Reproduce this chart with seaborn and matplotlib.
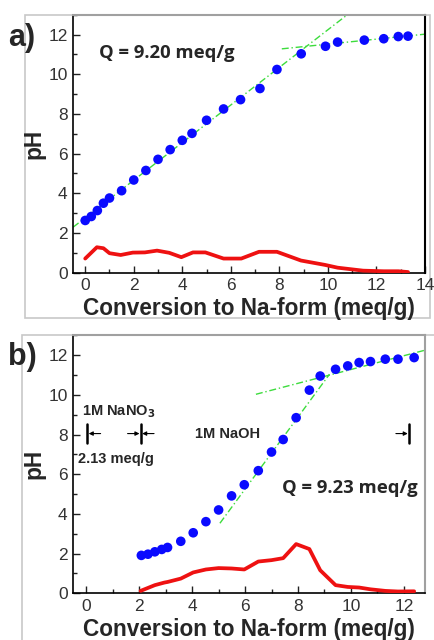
import numpy as np
import pandas as pd
import matplotlib
matplotlib.use("Agg")
import matplotlib.pyplot as plt
from matplotlib.patches import Rectangle
from matplotlib.ticker import MultipleLocator
import seaborn as sns

# ---------------- data ----------------
# panel a
a_x = [0, 0.25, 0.5, 0.75, 1.0, 1.5, 2.0, 2.5, 3.0, 3.5, 4.0, 4.4, 5.0, 5.7, 6.4,
       7.2, 7.9, 8.9, 9.9, 10.4, 11.5, 12.3, 12.9, 13.3]
a_ph = [2.63, 2.83, 3.13, 3.5, 3.76, 4.13, 4.67, 5.15, 5.71, 6.2, 6.67, 7.02, 7.68,
        8.25, 8.72, 9.28, 10.24, 11.03, 11.41, 11.62, 11.72, 11.79, 11.9, 11.92]
a_red_x = [0, 0.48, 0.75, 1.0, 1.46, 1.96, 2.46, 2.96, 3.46, 3.96, 4.44, 4.95, 5.7,
           6.43, 7.16, 7.9, 8.89, 9.88, 10.4, 11.45, 12.3, 12.9, 13.3]
a_red_y = [0.71, 1.28, 1.23, 0.98, 0.89, 1.01, 1.02, 1.11, 1.0, 0.78, 1.02, 1.02, 0.71,
           0.71, 1.05, 1.05, 0.61, 0.39, 0.25, 0.1, 0.07, 0.07, 0.03]
a_fit1_x = [-0.5, 10.8]
a_fit1_y = [2.29, 13.0]
a_fit2_x = [8.1, 14.0]
a_fit2_y = [11.28, 12.02]
a_q_text = "Q = 9.20 meq/g"

# panel b
b_x = [2.08, 2.33, 2.59, 2.85, 3.07, 3.57, 4.04, 4.52, 5.0, 5.49, 5.97, 6.5, 7.0,
       7.44, 7.93, 8.43, 8.84, 9.42, 9.88, 10.31, 10.74, 11.3, 11.78, 12.39]
b_ph = [1.91, 1.97, 2.09, 2.21, 2.31, 2.62, 3.05, 3.61, 4.2, 4.91, 5.47, 6.18, 7.12,
        7.75, 8.85, 10.24, 10.95, 11.29, 11.46, 11.63, 11.68, 11.8, 11.8, 11.88]
b_red_x = [2.05, 2.59, 2.95, 3.07, 3.57, 4.04, 4.52, 5.0, 5.49, 5.97, 6.5, 7.0, 7.44,
           7.93, 8.43, 8.84, 9.42, 9.88, 10.31, 10.74, 11.3, 11.78, 12.39]
b_red_y = [0.12, 0.41, 0.54, 0.57, 0.74, 1.05, 1.2, 1.27, 1.25, 1.2, 1.6, 1.67, 1.77,
           2.48, 2.23, 1.16, 0.41, 0.32, 0.29, 0.2, 0.12, 0.09, 0.1]
b_fit1_x = [5.05, 9.19]
b_fit1_y = [3.53, 11.04]
b_fit2_x = [6.41, 12.85]
b_fit2_y = [10.03, 12.27]
b_q_text = "Q = 9.23 meq/g"
b_bounds = [0.04, 2.06, 12.2]
b_seg_labels = ["1M NaNO$_\\mathbf{3}$", "2.13 meq/g", "1M NaOH"]

xlabel = "Conversion to Na-form (meq/g)"
ylabel = "pH"

# ---------------- style ----------------
sns.set_style("ticks")
plt.rcParams["font.family"] = ["Liberation Sans", "DejaVu Sans"]
plt.rcParams["xtick.direction"] = "in"
plt.rcParams["ytick.direction"] = "in"

fig = plt.figure(figsize=(4.35, 6.4), dpi=100)
ax_a = fig.add_axes([0.168, 0.574, 0.809, 0.403])
ax_b = fig.add_axes([0.168, 0.073, 0.809, 0.403])

# outer light frames
fig.add_artist(Rectangle((0.0575, 0.503), 0.93, 0.474, transform=fig.transFigure,
                         fill=False, edgecolor="#c8c8c8", lw=1.2, zorder=0))
fig.add_artist(Rectangle((0.05, -0.01), 1.0, 0.487, transform=fig.transFigure,
                         fill=False, edgecolor="#c8c8c8", lw=1.2, zorder=0))

GREEN = "#3ddc3d"
BLUE = "#0a0aff"
RED = "#ee1111"


def draw(ax, x, ph, rx, ry, f1x, f1y, f2x, f2y, xlim, xmax_tick):
    sns.lineplot(x=rx, y=ry, ax=ax, color=RED, lw=2.7, sort=False,
                 estimator=None, zorder=3)
    sns.lineplot(x=f1x, y=f1y, ax=ax, color=GREEN, lw=1.0, sort=False,
                 estimator=None, zorder=2, linestyle=(0, (5, 2, 1, 2)))
    sns.lineplot(x=f2x, y=f2y, ax=ax, color=GREEN, lw=1.0, sort=False,
                 estimator=None, zorder=2, linestyle=(0, (5, 2, 1, 2)))
    sns.scatterplot(x=x, y=ph, ax=ax, color=BLUE, s=48, edgecolor="none",
                    zorder=4)
    ax.set_xlim(*xlim)
    ax.set_ylim(0, 13)
    ax.xaxis.set_minor_locator(MultipleLocator(1))
    ax.yaxis.set_minor_locator(MultipleLocator(1))
    ax.set_yticks(np.arange(0, 13, 2))
    ax.set_xticks(np.arange(0, xmax_tick + 0.1, 2))
    ax.tick_params(which="major", length=5, width=1, colors="#222222",
                   labelsize=12.5, labelcolor="#333333", top=False, right=False,
                   pad=4)
    ax.tick_params(which="minor", length=3, width=1, colors="#222222",
                   top=False, right=False)
    ax.set_xlabel(xlabel, fontsize=16.3, fontweight="bold", labelpad=3)
    ax.set_ylabel(ylabel, fontsize=16.3, fontweight="bold", labelpad=2)
    for s in ["left", "bottom"]:
        ax.spines[s].set_color("black")
        ax.spines[s].set_linewidth(1.2)
    ax.spines["top"].set_color("#a0a0a0")
    ax.spines["top"].set_linewidth(1.5)


draw(ax_a, a_x, a_ph, a_red_x, a_red_y, a_fit1_x, a_fit1_y, a_fit2_x, a_fit2_y,
     (-0.5, 14), 14)
ax_a.spines["right"].set_color("black")
ax_a.spines["right"].set_linewidth(1.5)

draw(ax_b, b_x, b_ph, b_red_x, b_red_y, b_fit1_x, b_fit1_y, b_fit2_x, b_fit2_y,
     (-0.5, 12.8), 12)
ax_b.spines["right"].set_color("#a0a0a0")
ax_b.spines["right"].set_linewidth(1.5)

# texts
ax_a.text(0.55, 11.05, a_q_text, fontsize=13.3, fontweight="bold",
          family=["Open Sans", "DejaVu Sans"], va="center", ha="left")
ax_b.text(7.4, 5.3, b_q_text, fontsize=13.3, fontweight="bold",
          family=["Open Sans", "DejaVu Sans"], va="center", ha="left")

fig.text(0.018, 0.94, "a)", fontsize=22, fontweight="bold", va="center")
fig.text(0.018, 0.442, "b)", fontsize=22, fontweight="bold", va="center")

# segment annotations in panel b
ax_b.text(-0.15, 9.15, b_seg_labels[0], fontsize=10.5, fontweight="bold", va="center")
ax_b.text(-0.3, 6.75, b_seg_labels[1], fontsize=10.5, fontweight="bold", va="center")
ax_b.text(4.1, 8.05, b_seg_labels[2], fontsize=10.5, fontweight="bold", va="center")
for bx in b_bounds:
    ax_b.plot([bx, bx], [7.55, 8.55], color="black", lw=1.8)
arr = dict(arrowstyle="-|>", color="black", lw=0.8, mutation_scale=6,
           shrinkA=0, shrinkB=0)
ax_b.annotate("", xy=(b_bounds[0] + 0.05, 8.05), xytext=(b_bounds[0] + 0.5, 8.05),
              arrowprops=arr)
ax_b.annotate("", xy=(b_bounds[1] - 0.05, 8.05), xytext=(b_bounds[1] - 0.5, 8.05),
              arrowprops=arr)
ax_b.annotate("", xy=(b_bounds[1] + 0.05, 8.05), xytext=(b_bounds[1] + 0.5, 8.05),
              arrowprops=arr)
ax_b.annotate("", xy=(b_bounds[2] - 0.05, 8.05), xytext=(b_bounds[2] - 0.5, 8.05),
              arrowprops=arr)

fig.savefig("out.png", dpi=100)
